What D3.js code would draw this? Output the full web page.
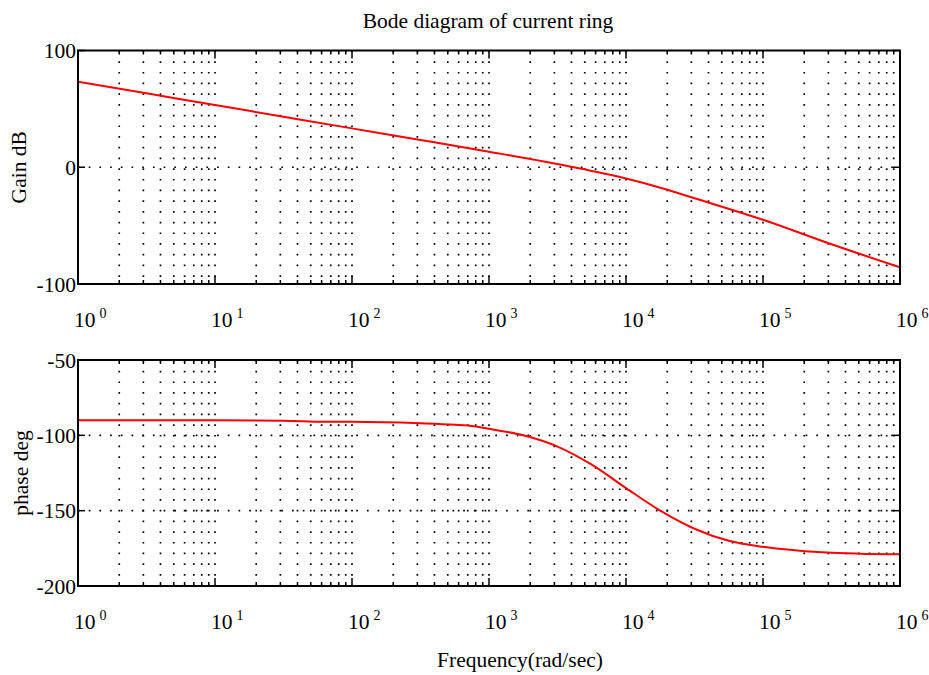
<!DOCTYPE html>
<html>
<head>
<meta charset="utf-8">
<script src="https://cdn.jsdelivr.net/npm/d3@7"></script>
<style>
  body { margin: 0; background: #fff; }
  text { font-family: "Liberation Serif", "Times New Roman", serif; fill: #000; }
</style>
</head>
<body>
<svg id="chart" width="929" height="675"></svg>
<script>
// values
const gainFreq = [1, 3.16, 10, 31.6, 100, 316, 1000, 3162, 5623, 10000, 17783, 31623, 100000, 316228, 1000000];
const gainDb = [73.3, 63.3, 53.3, 43.3, 33.3, 23.4, 13.3, 2.7, -3.2, -9.7, -17.5, -26.5, -45, -66, -85.7];

const phaseFreq = [1, 3.16, 10, 31.6, 63, 100, 316, 562, 780, 1000, 1778, 3162, 5623, 10000, 17783, 31623, 56234, 100000, 177828, 316228, 562341, 1000000];
const phaseDeg = [-90, -90, -90, -90.3, -91, -91, -92, -93, -94, -95.7, -100, -107.5, -119.5, -135, -150, -162, -170, -174, -176.5, -178, -178.7, -179];

const decades = [1, 10, 100, 1000, 10000, 100000, 1000000];
const gainTicks = [-100, 0, 100];
const phaseTicks = [-200, -150, -100, -50];

const svg = d3.select("#chart");
const left = 78, right = 900;
const fs = 21.5;

const x = d3.scaleLog().domain([1, 1e6]).range([left, right]);

// minor positions 2..9 in each decade
let minor = [];
decades.slice(0, 6).forEach(d => {
  for (let m = 2; m <= 9; m++) minor.push(d * m);
});

svg.append("text")
  .attr("x", 488).attr("y", 28)
  .attr("text-anchor", "middle")
  .attr("font-size", fs)
  .text("Bode diagram of current ring");

function drawPanel(cfg) {
  const y = d3.scaleLinear().domain(cfg.domain).range([cfg.bottom, cfg.top]);
  const g = svg.append("g");

  // dotted grid
  const gridX = minor.concat(decades.slice(1, 6));
  g.selectAll(".vgrid").data(gridX).enter().append("line")
    .attr("x1", d => x(d)).attr("x2", d => x(d))
    .attr("y1", cfg.top).attr("y2", cfg.bottom)
    .attr("stroke", "#000").attr("stroke-width", 1.7)
    .attr("stroke-dasharray", "1.7,9");
  g.selectAll(".hgrid").data(cfg.ticks.filter(t => t > cfg.domain[0] && t < cfg.domain[1])).enter().append("line")
    .attr("x1", left).attr("x2", right)
    .attr("y1", d => y(d)).attr("y2", d => y(d))
    .attr("stroke", "#000").attr("stroke-width", 1.7)
    .attr("stroke-dasharray", "1.7,9");

  // ticks on top and bottom edges
  const allX = minor.map(d => ({ v: d, len: 4 })).concat(decades.map(d => ({ v: d, len: 8 })));
  [cfg.top, cfg.bottom].forEach((edge, i) => {
    const dir = i === 0 ? 1 : -1;
    g.selectAll(null).data(allX).enter().append("line")
      .attr("x1", d => x(d.v)).attr("x2", d => x(d.v))
      .attr("y1", edge).attr("y2", d => edge + dir * d.len)
      .attr("stroke", "#000").attr("stroke-width", 1.5);
  });
  // y ticks on left and right edges
  [left, right].forEach((edge, i) => {
    const dir = i === 0 ? 1 : -1;
    g.selectAll(null).data(cfg.ticks).enter().append("line")
      .attr("x1", edge).attr("x2", edge + dir * 7)
      .attr("y1", d => y(d)).attr("y2", d => y(d))
      .attr("stroke", "#000").attr("stroke-width", 1.5);
  });

  // curve
  const clipId = "clip" + cfg.name;
  svg.append("clipPath").attr("id", clipId).append("rect")
    .attr("x", left).attr("y", cfg.top).attr("width", right - left).attr("height", cfg.bottom - cfg.top);
  g.append("path")
    .datum(cfg.xs.map((f, i) => [f, cfg.ys[i]]))
    .attr("clip-path", "url(#" + clipId + ")")
    .attr("fill", "none").attr("stroke", "#ff0000").attr("stroke-width", 2)
    .attr("d", d3.line().x(d => x(d[0])).y(d => y(d[1])).curve(d3.curveMonotoneX));

  // frame
  g.append("rect")
    .attr("x", left).attr("y", cfg.top).attr("width", right - left).attr("height", cfg.bottom - cfg.top)
    .attr("fill", "none").attr("stroke", "#000").attr("stroke-width", 2);

  // y labels
  g.selectAll(".ylab").data(cfg.ticks).enter().append("text")
    .attr("x", left - 2).attr("y", d => y(d) + 7.5)
    .attr("text-anchor", "end").attr("font-size", fs)
    .text(d => d);

  // x labels 10^k
  const lab = g.selectAll(".xlab").data(decades).enter().append("text")
    .attr("x", d => x(d) - 4).attr("y", cfg.bottom + 43)
    .attr("font-size", fs);
  lab.append("tspan").text("10");
  lab.append("tspan").attr("dx", 4).attr("dy", -9).attr("font-size", 14)
    .text(d => Math.round(Math.log10(d)));

  svg.append("text")
    .attr("transform", `translate(${cfg.labelX},${(cfg.top + cfg.bottom) / 2}) rotate(-90)`)
    .attr("text-anchor", "middle").attr("font-size", fs)
    .text(cfg.label);
}

drawPanel({ name: "gain", top: 50.5, bottom: 284, domain: [-100, 100], ticks: gainTicks,
  xs: gainFreq, ys: gainDb, label: "Gain dB", labelX: 26 });
drawPanel({ name: "phase", top: 360, bottom: 586, domain: [-200, -50], ticks: phaseTicks,
  xs: phaseFreq, ys: phaseDeg, label: "phase deg", labelX: 28 });

svg.append("text")
  .attr("x", 520).attr("y", 667)
  .attr("text-anchor", "middle").attr("font-size", fs)
  .text("Frequency(rad/sec)");
</script>
</body>
</html>
